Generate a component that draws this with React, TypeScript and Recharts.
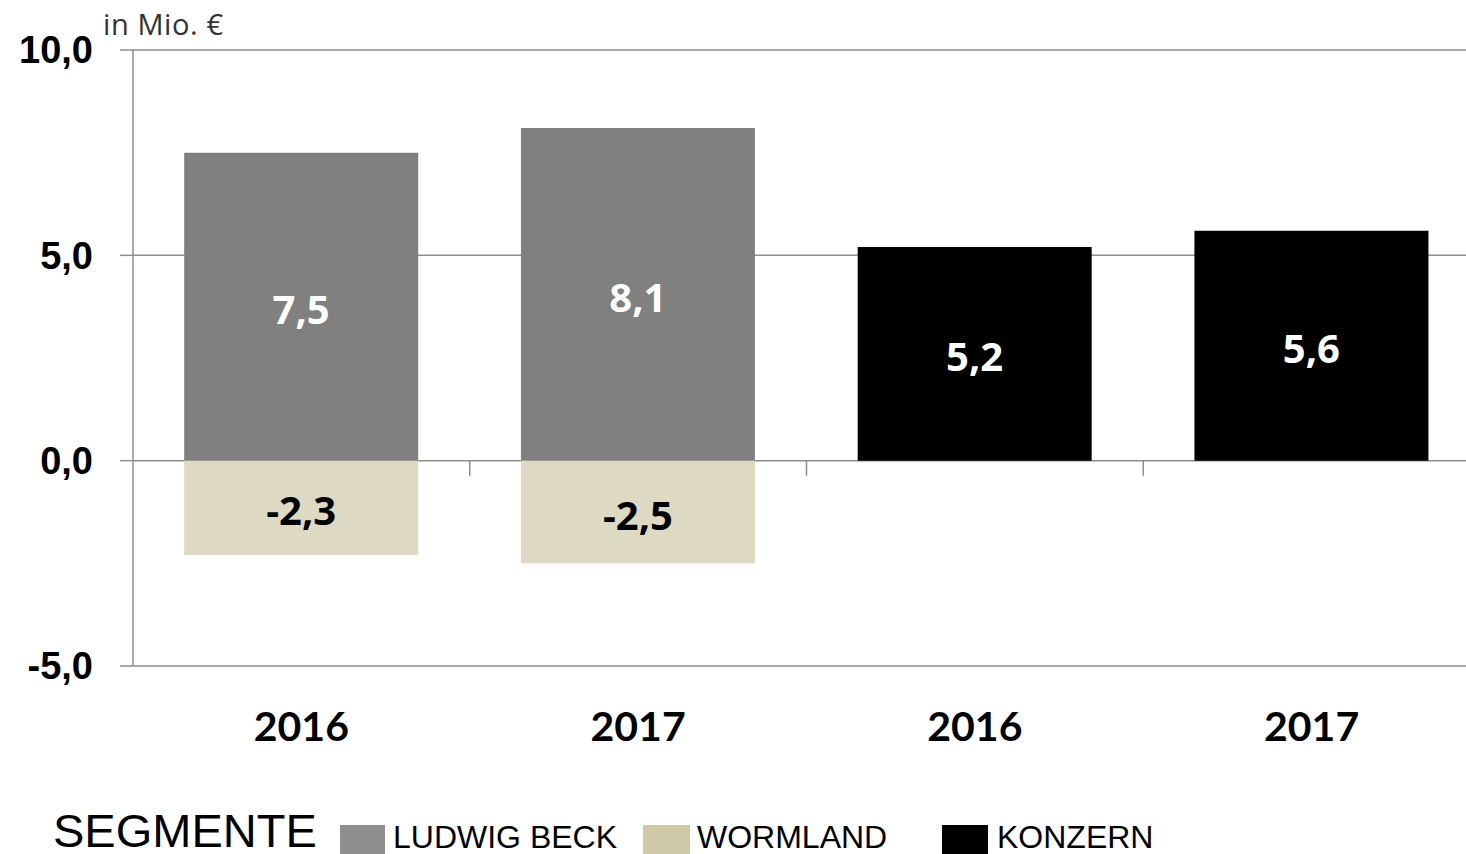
import React from 'react';
import { BarChart, Bar, XAxis, YAxis, CartesianGrid, LabelList, ReferenceLine } from 'recharts';

const categories = ['2016', '2017', '2016', '2017'];
const ludwigBeck = [7.5, 8.1, null, null];
const wormland = [-2.3, -2.5, null, null];
const konzern = [null, null, 5.2, 5.6];
const yTicks = [-5, 0, 5, 10];
const boundaryTicks = [1, 2, 3];
const unitLabel = 'in Mio. €';
const legendTitle = 'SEGMENTE';
const legendItems = [
  { name: 'LUDWIG BECK', color: '#8f8f8f', left: 340, width: 45, textLeft: 393 },
  { name: 'WORMLAND', color: '#cfc9a7', left: 643, width: 47, textLeft: 697 },
  { name: 'KONZERN', color: '#000000', left: 942, width: 46, textLeft: 997 },
];

const data = categories.map((c, i) => ({
  name: c,
  pos: i + 0.5,
  lb: ludwigBeck[i],
  wm: wormland[i],
  kz: konzern[i],
}));

const fmtTick = (v: any) => Number(v).toFixed(1).replace('.', ',');
const fmtVal = (v: any) => (v === null || v === undefined || v === 0 ? '' : Number(v).toFixed(1).replace('.', ','));

const GRID = '#8e8e8e';
const axisFont = 'Lato, Carlito, sans-serif';
const valueFont = 'Open Sans, sans-serif';

const makeLabel = (color: string) => (props: any) => {
  const { x, y, width, height, value } = props;
  const txt = fmtVal(value);
  if (!txt) return null;
  const cx = Number(x) + Number(width) / 2;
  const cy = Number(y) + Number(height) / 2;
  return (
    <text
      x={cx}
      y={cy + 2}
      textAnchor="middle"
      dominantBaseline="central"
      fill={color}
      fontSize={40}
      fontWeight={700}
      fontFamily={valueFont}
    >
      {txt}
    </text>
  );
};

export default function App() {
  return (
    <div style={{ position: 'absolute', left: 0, top: 0, width: 1466, height: 854, background: '#fff', overflow: 'hidden' }}>
      <BarChart
        width={1480}
        height={854}
        data={data}
        stackOffset="sign"
        barCategoryGap="15.2%"
        margin={{ top: 50, right: 0, left: 0, bottom: 88 }}
        style={{ fontFamily: 'Liberation Sans, Arial, sans-serif' }}
      >
        <CartesianGrid horizontal vertical={false} stroke={GRID} strokeWidth={1.5} />
        <XAxis
          dataKey="name"
          height={100}
          axisLine={false}
          tickLine={false}
          tickSize={0}
          tickMargin={46}
          tick={{ fill: '#000', fontSize: 41, fontWeight: 'bold', fontFamily: axisFont }}
        />
        <XAxis xAxisId="b" dataKey="pos" type="number" domain={[0, 4]} allowDataOverflow hide />
        <YAxis
          width={133}
          domain={[-5, 10]}
          ticks={yTicks}
          interval={0}
          tickFormatter={fmtTick as any}
          axisLine={{ stroke: GRID, strokeWidth: 1.5 }}
          tickLine={{ stroke: GRID, strokeWidth: 1.5 }}
          tickSize={13}
          tickMargin={27}
          tick={{ fill: '#000', fontSize: 38, fontWeight: 'bold', fontFamily: 'Liberation Sans, Arial, sans-serif' }}
        />
        {boundaryTicks.map((t) => (
          <ReferenceLine
            key={t}
            xAxisId="b"
            segment={[{ x: t, y: 0 }, { x: t, y: -0.37 }]}
            stroke={GRID}
            strokeWidth={1.5}
          />
        ))}
        <Bar dataKey="lb" stackId="a" fill="#808080" isAnimationActive={false}>
          <LabelList dataKey="lb" content={makeLabel('#ffffff')} />
        </Bar>
        <Bar dataKey="wm" stackId="a" fill="#ddd9c3" isAnimationActive={false}>
          <LabelList dataKey="wm" content={makeLabel('#000000')} />
        </Bar>
        <Bar dataKey="kz" stackId="a" fill="#000000" isAnimationActive={false}>
          <LabelList dataKey="kz" content={makeLabel('#ffffff')} />
        </Bar>
      </BarChart>
      <div style={{ position: 'absolute', left: 103, top: 9, fontFamily: 'Open Sans, sans-serif', fontSize: 29, lineHeight: 1, letterSpacing: 0.6, color: '#333', whiteSpace: 'nowrap' }}>
        {unitLabel}
      </div>
      <div style={{ position: 'absolute', left: 53, top: 809, fontFamily: 'Liberation Sans, Arial, sans-serif', fontSize: 47, lineHeight: '44px', color: '#000', whiteSpace: 'nowrap' }}>
        {legendTitle}
      </div>
      {legendItems.map((it) => (
        <React.Fragment key={it.name}>
          <div style={{ position: 'absolute', left: it.left, top: 825, width: it.width, height: 35, background: it.color }} />
          <div style={{ position: 'absolute', left: it.textLeft, top: 821, fontFamily: 'Liberation Sans, Arial, sans-serif', fontSize: 32, lineHeight: 1, color: '#000', whiteSpace: 'nowrap' }}>
            {it.name}
          </div>
        </React.Fragment>
      ))}
    </div>
  );
}
